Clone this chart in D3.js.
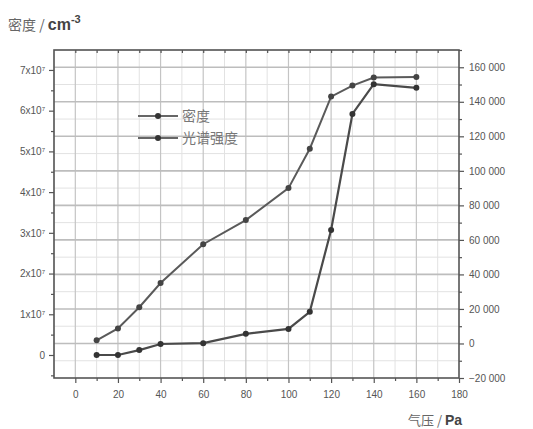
<!DOCTYPE html>
<html><head><meta charset="utf-8">
<script src="https://cdn.jsdelivr.net/npm/d3@7"></script>
<style>
body{margin:0;background:#fff;}
text{font-family:"Liberation Sans",Arial,sans-serif;}
</style></head>
<body><svg id="c" width="533" height="429"></svg>
<script>
const pressure = [10, 20, 30, 40, 60, 80, 100, 110, 120, 130, 140, 160];
const density = [0, 0, 0.12, 0.27, 0.29, 0.52, 0.64, 1.06, 3.07, 5.92, 6.65, 6.56]; // x10^7 cm^-3
const intensity = [1800, 8700, 21000, 35000, 57500, 71500, 90000, 112800, 143000, 149400, 154000, 154300];
const xTicks = [0, 20, 40, 60, 80, 100, 120, 140, 160, 180];
const leftTicks = [0, 1, 2, 3, 4, 5, 6, 7];
const rightTicks = [-20000, 0, 20000, 40000, 60000, 80000, 100000, 120000, 140000, 160000];
const seriesNames = ["密度", "光谱强度"];

(function () {
const svg = d3.select("#c");
const L = 54, R = 459, T = 50, B = 378;
const x = d3.scaleLinear().domain([-10, 180]).range([L, R]);
const yL = d3.scaleLinear().domain([-0.565, 7.49]).range([B, T]);
const yR = d3.scaleLinear().domain([-20000, 170000]).range([B, T]);
const ink = "#555";

// minor gridlines
const g = svg.append("g");
d3.range(-10, 181, 10).filter(v => v % 20 !== 0).forEach(v => {
  g.append("line").attr("x1", x(v)).attr("x2", x(v)).attr("y1", T).attr("y2", B)
    .attr("stroke", "#e2e2e2").attr("stroke-width", 1);
});
d3.range(-10000, 170001, 20000).forEach(v => {
  g.append("line").attr("x1", L).attr("x2", R).attr("y1", yR(v)).attr("y2", yR(v))
    .attr("stroke", "#e2e2e2").attr("stroke-width", 1);
});
// major gridlines
xTicks.filter(v => v > -10 && v < 180).forEach(v => {
  g.append("line").attr("x1", x(v)).attr("x2", x(v)).attr("y1", T).attr("y2", B)
    .attr("stroke", "#c4c4c4").attr("stroke-width", 1.2);
});
rightTicks.filter(v => v > -20000).forEach(v => {
  g.append("line").attr("x1", L).attr("x2", R).attr("y1", yR(v)).attr("y2", yR(v))
    .attr("stroke", "#bdbdbd").attr("stroke-width", 1.6);
});

// axes
const fmtR = v => v === 0 ? "0" : d3.format(",")(v).replace(/,/g, " ");
const axB = svg.append("g").attr("transform", `translate(0,${B})`)
  .call(d3.axisBottom(x).tickValues(xTicks).tickSize(5).tickPadding(8));
const axBm = svg.append("g").attr("transform", `translate(0,${B})`)
  .call(d3.axisBottom(x).tickValues(d3.range(10, 180, 20)).tickSize(3).tickFormat(""));
const axT = svg.append("g").attr("transform", `translate(0,${T})`)
  .call(d3.axisBottom(x).tickValues(d3.range(0, 180, 10)).tickSize(3).tickFormat(""));
const axL = svg.append("g").attr("transform", `translate(${L},0)`)
  .call(d3.axisLeft(yL).tickValues(leftTicks).tickSize(5).tickPadding(4)
    .tickFormat(d => d === 0 ? "0" : d + "x10"));
const axLm = svg.append("g").attr("transform", `translate(${L},0)`)
  .call(d3.axisLeft(yL).tickValues(d3.range(-0.5, 7.5, 1)).tickSize(3).tickFormat(""));
const axR = svg.append("g").attr("transform", `translate(${R},0)`)
  .call(d3.axisRight(yR).tickValues(rightTicks).tickSize(5).tickPadding(5).tickFormat(fmtR));
const axRm = svg.append("g").attr("transform", `translate(${R},0)`)
  .call(d3.axisRight(yR).tickValues(d3.range(-10000, 170001, 20000)).tickSize(3).tickFormat(""));

[axB, axBm, axT, axL, axLm, axR, axRm].forEach(a => {
  a.select(".domain").remove();
  a.selectAll("line").attr("stroke", ink).attr("stroke-width", 1.2);
  a.selectAll("text").attr("fill", ink).attr("font-size", 10).style("font-family", '"Liberation Sans",Arial,sans-serif');
});
// superscript 7 on left labels
axL.selectAll("text").filter(d => d !== 0).append("tspan")
  .attr("dy", "-0.5em").attr("font-size", 6).text("7");
// frame
svg.append("rect").attr("x", L).attr("y", T).attr("width", R - L).attr("height", B - T)
  .attr("fill", "none").attr("stroke", ink).attr("stroke-width", 1.6);

// series
const lineL = d3.line().x((d, i) => x(pressure[i])).y(d => yL(d));
const lineR = d3.line().x((d, i) => x(pressure[i])).y(d => yR(d));
svg.append("path").datum(intensity).attr("d", lineR).attr("fill", "none")
  .attr("stroke", "#5a5a5a").attr("stroke-width", 2);
svg.append("path").datum(density).attr("d", lineL).attr("fill", "none")
  .attr("stroke", "#4a4a4a").attr("stroke-width", 2.2);
svg.append("g").selectAll("circle").data(intensity).join("circle")
  .attr("cx", (d, i) => x(pressure[i])).attr("cy", d => yR(d)).attr("r", 3).attr("fill", "#444");
svg.append("g").selectAll("circle").data(density).join("circle")
  .attr("cx", (d, i) => x(pressure[i])).attr("cy", d => yL(d)).attr("r", 3).attr("fill", "#333");

// legend
const lg = svg.append("g");
seriesNames.forEach((n, i) => {
  const ly = 116 + i * 22;
  lg.append("line").attr("x1", 138).attr("x2", 178).attr("y1", ly).attr("y2", ly)
    .attr("stroke", "#666").attr("stroke-width", 2);
  lg.append("circle").attr("cx", 158).attr("cy", ly).attr("r", 3).attr("fill", "#333");
  lg.append("text").attr("x", 182).attr("y", ly + 5).attr("font-size", 14)
    .attr("fill", "#777").style("font-family", '"Noto Sans CJK SC",sans-serif').text(n);
});

// axis titles
const t1 = svg.append("text").attr("x", 8).attr("y", 30).attr("fill", "#666");
t1.append("tspan").attr("font-size", 14).style("font-family", '"Noto Sans CJK SC",sans-serif').text("密度 / ");
t1.append("tspan").attr("font-size", 16).attr("font-weight", "bold").attr("fill", "#444").text("cm");
t1.append("tspan").attr("font-size", 11).attr("font-weight", "bold").attr("fill", "#444").attr("dy", "-7").text("-3");
const t2 = svg.append("text").attr("x", 408).attr("y", 425).attr("fill", "#666");
t2.append("tspan").attr("font-size", 13).style("font-family", '"Noto Sans CJK SC",sans-serif').text("气压 / ");
t2.append("tspan").attr("font-size", 14).attr("font-weight", "bold").attr("fill", "#444").text("Pa");
})();
</script></body></html>
